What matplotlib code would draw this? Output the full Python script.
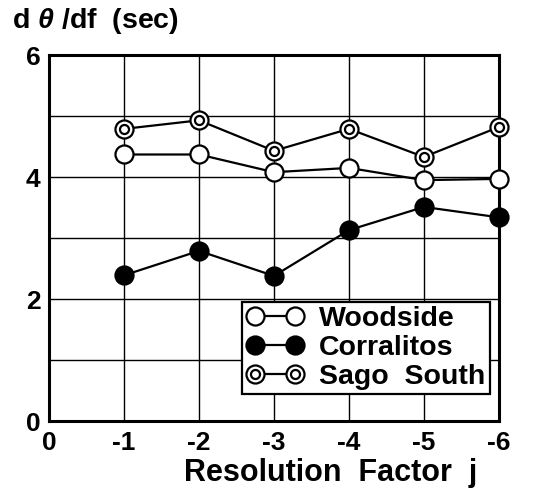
import matplotlib
matplotlib.use("Agg")
import matplotlib.pyplot as plt
from matplotlib.legend_handler import HandlerTuple

plt.rcParams['font.family'] = ['Liberation Sans', 'DejaVu Sans']
plt.rcParams['axes.unicode_minus'] = False
plt.rcParams['mathtext.fontset'] = 'custom'
plt.rcParams['mathtext.it'] = 'Liberation Sans:italic:bold'

# resolution factor j and d(theta)/df for each station
j = [-1, -2, -3, -4, -5, -6]
woodside = [4.37, 4.37, 4.08, 4.15, 3.95, 3.97]
corralitos = [2.39, 2.79, 2.38, 3.13, 3.51, 3.34]
sago_south = [4.79, 4.93, 4.43, 4.79, 4.33, 4.82]

x_ticks = [0, -1, -2, -3, -4, -5, -6]
y_ticks = [0, 2, 4, 6]

fig = plt.figure(figsize=(5.33, 4.96), dpi=100)
ax = fig.add_axes([0.092, 0.151, 0.844, 0.738])

lw = 1.6
ms = 13
style = dict(color='black', lw=lw, ms=ms, mec='black', mew=1.6,
             zorder=3, clip_on=False)
w, = ax.plot(j, woodside, '-o', mfc='white', **style)
c, = ax.plot(j, corralitos, '-o', mfc='black', **style)
s_out, = ax.plot(j, sago_south, '-o', mfc='white', **style)
# inner ring of the double-circle symbol
s_in, = ax.plot(j, sago_south, 'o', color='black', ms=6.5, mfc='white',
                mec='black', mew=1.6, zorder=4, clip_on=False)

ax.set_xlim(0, -6)
ax.set_ylim(0, 6)
ax.set_xticks(x_ticks)
ax.set_xticklabels([str(t) for t in x_ticks])
ax.set_yticks(y_ticks)
ax.set_yticks([1, 3, 5], minor=True)
ax.grid(True, which='both', color='black', lw=1.0)
ax.set_axisbelow(True)
ax.tick_params(which='both', length=0)
ax.tick_params(axis='x', labelsize=19, pad=7)
ax.tick_params(axis='y', labelsize=19, pad=6)
for lab in ax.get_xticklabels() + ax.get_yticklabels():
    lab.set_fontweight('bold')
for sp in ax.spines.values():
    sp.set_linewidth(2.2)

leg = ax.legend([w, c, (s_out, s_in)], ['Woodside', 'Corralitos', 'Sago  South'],
                handler_map={tuple: HandlerTuple(ndivide=1)},
                numpoints=2, handlelength=2.0, handletextpad=0.55,
                loc='lower right', bbox_to_anchor=(0.98, 0.074),
                borderaxespad=0, fancybox=False, framealpha=1,
                edgecolor='black', labelspacing=0.1, borderpad=0.15,
                prop={'size': 20.5, 'weight': 'bold'})
leg.get_frame().set_linewidth(1.6)
leg.set_zorder(5)

fig.text(0.022, 0.958, r"d $\theta$ /df  (sec)", fontsize=20.5,
         fontweight='bold', va='center', ha='left')
fig.text(0.62, 0.03, "Resolution  Factor  j", fontsize=22,
         fontweight='bold', va='baseline', ha='center')

fig.savefig("out.png", dpi=100)
